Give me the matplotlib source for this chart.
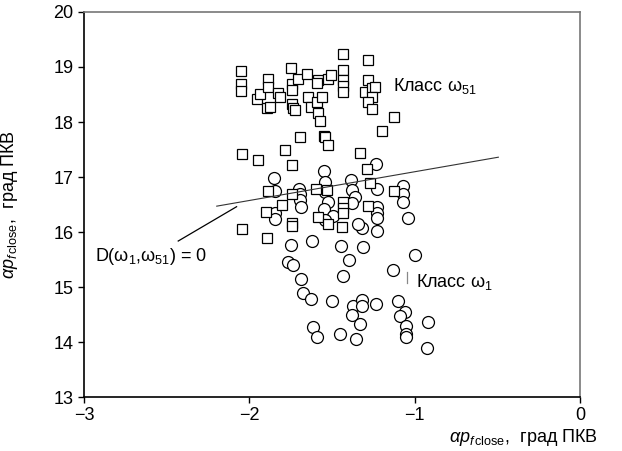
import matplotlib
matplotlib.use("Agg")
import matplotlib.pyplot as plt

plt.rcParams.update({
    "font.family": ["Liberation Sans", "DejaVu Sans"],
    "font.size": 13,
    "mathtext.fontset": "custom",
    "mathtext.rm": "Liberation Sans",
    "mathtext.it": "Liberation Sans:italic",
    "mathtext.bf": "Liberation Sans:bold",
    "axes.unicode_minus": True,
})

# class omega_51 (squares)
sq_x = [-2.05, -2.05, -2.05, -1.955, -1.935, -1.89, -1.89, -1.895, -1.875, -1.825,
        -1.814, -1.748, -1.74, -1.74, -1.744, -1.734, -1.724, -1.704, -1.651, -1.648,
        -1.627, -1.587, -1.589, -1.592, -1.583, -1.575, -1.562, -1.551, -1.542, -1.522,
        -1.522, -1.509, -1.431, -1.431, -1.431, -1.431, -1.431, -1.28, -1.284, -1.30,
        -1.26, -1.237, -1.258, -1.28, -1.258, -1.123, -1.199, -1.33, -1.29, -1.27,
        -1.122, -1.693, -1.784, -2.046, -1.95, -1.74, -1.885, -1.744, -1.597, -1.532,
        -1.431, -1.431, -1.431, -1.28, -1.582, -1.522, -1.441, -1.804, -1.90, -1.744,
        -1.744, -2.046, -1.895]
sq_y = [18.93, 18.69, 18.57, 18.41, 18.51, 18.78, 18.64, 18.25, 18.28, 18.52,
        18.46, 18.98, 18.70, 18.58, 18.33, 18.25, 18.22, 18.79, 18.88, 18.46,
        18.27, 18.76, 18.71, 18.37, 18.16, 18.01, 18.45, 17.75, 17.73, 17.58,
        18.78, 18.85, 19.24, 18.95, 18.77, 18.66, 18.55, 19.13, 18.77, 18.55,
        18.62, 18.64, 18.46, 18.37, 18.24, 18.09, 17.84, 17.44, 17.15, 16.90,
        16.75, 17.73, 17.50, 17.41, 17.31, 17.22, 16.75, 16.69, 16.79, 16.76,
        16.55, 16.44, 16.34, 16.47, 16.28, 16.15, 16.09, 16.49, 16.37, 16.16,
        16.11, 16.05, 15.90]

# class omega_1 (circles)
ci_x = [-1.849, -1.845, -1.70, -1.693, -1.693, -1.687, -1.845, -1.845, -1.748, -1.618,
        -1.764, -1.734, -1.687, -1.677, -1.627, -1.613, -1.592, -1.546, -1.542, -1.542,
        -1.522, -1.548, -1.492, -1.542, -1.388, -1.381, -1.361, -1.381, -1.234, -1.229,
        -1.229, -1.229, -1.229, -1.229, -1.32, -1.345, -1.073, -1.073, -1.073, -1.038,
        -1.447, -1.31, -1.397, -1.0, -1.431, -1.134, -1.502, -1.375, -1.32, -1.32,
        -1.381, -1.234, -1.099, -1.058, -1.088, -1.052, -1.052, -1.052, -1.33, -1.451,
        -1.353, -0.922, -0.925]
ci_y = [16.99, 16.75, 16.79, 16.70, 16.59, 16.46, 16.35, 16.23, 15.76, 15.84,
        15.46, 15.40, 15.14, 14.90, 14.79, 14.28, 14.10, 17.11, 16.91, 16.73,
        16.55, 16.41, 16.29, 16.22, 16.95, 16.76, 16.64, 16.52, 17.23, 16.78,
        16.45, 16.35, 16.25, 16.01, 16.08, 16.14, 16.84, 16.70, 16.55, 16.25,
        15.75, 15.73, 15.49, 15.58, 15.20, 15.31, 14.75, 14.66, 14.76, 14.65,
        14.49, 14.70, 14.74, 14.54, 14.47, 14.29, 14.15, 14.10, 14.33, 14.15,
        14.05, 14.36, 13.89]

# decision boundary D(w1, w51) = 0
bound_x = [-2.197, -0.494]
bound_y = [16.47, 17.36]

xticks = [-3, -2, -1, 0]
yticks = [13, 14, 15, 16, 17, 18, 19, 20]

fig = plt.figure(figsize=(6.22, 4.51), dpi=100)
ax = fig.add_axes([0.135, 0.1197, 0.7975, 0.8537])

ax.plot(ci_x, ci_y, "o", ms=8.6, mfc="white", mec="black", mew=0.9, zorder=3)
ax.plot(sq_x, sq_y, "s", ms=7.4, mfc="white", mec="black", mew=0.9, zorder=4)
ax.plot(bound_x, bound_y, color="#333333", lw=0.8, zorder=5)

# pointer for the boundary label
ax.plot([-2.43, -2.077], [15.836, 16.46], color="black", lw=0.9, zorder=5)
ax.text(-2.935, 15.55, r"D($\mathregular{\omega_1}$,$\mathregular{\omega_{51}}$) = 0",
        ha="left", va="center", fontsize=13)

ax.text(-1.13, 18.66, r"Класс $\mathregular{\omega_{51}}$", ha="left", va="center",
        fontsize=13)
ax.plot([-1.048, -1.048], [15.08, 15.27], color="#888888", lw=0.9)
ax.text(-0.99, 15.1, r"Класс $\mathregular{\omega_1}$", ha="left", va="center",
        fontsize=13)

ax.set_xlim(-3, 0)
ax.set_ylim(13, 20)
ax.set_xticks(xticks)
ax.set_yticks(yticks)
ax.tick_params(direction="out", length=4, width=1, labelsize=13, top=False, right=False)

for side in ("left", "bottom"):
    ax.spines[side].set_color("black")
    ax.spines[side].set_linewidth(1.2)
for side in ("top", "right"):
    ax.spines[side].set_color("#777777")
    ax.spines[side].set_linewidth(1.2)

ax.set_ylabel(r"$\alpha p_{f\,\mathrm{close}}$,  град ПКВ", fontsize=13)
ax.yaxis.set_label_coords(-0.128, 0.5)
ax.text(1.036, -0.104, r"$\alpha p_{f\,\mathrm{close}}$,  град ПКВ", transform=ax.transAxes,
        ha="right", va="center", fontsize=13)

fig.savefig("out.png", dpi=100)
